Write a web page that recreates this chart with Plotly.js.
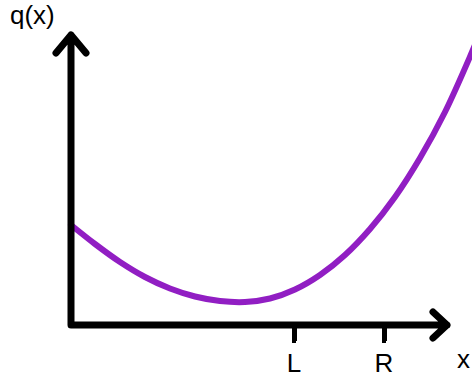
<!DOCTYPE html>
<html>
<head>
<meta charset="utf-8">
<script src="https://cdn.plot.ly/plotly-3.0.1.min.js"></script>
<style>
  html, body { margin: 0; padding: 0; background: #ffffff; }
  #chart { width: 472px; height: 378px; }
</style>
</head>
<body>
<div id="chart"></div>
<script>
// Sample points of the curve q(x)
const curveX = [0, 24, 49, 74, 99, 124, 149, 174, 199, 224, 249, 274, 299, 324, 349, 374, 401, 411];
const curveY = [100, 81, 63, 48, 36.5, 28.5, 24, 23, 26.5, 35.5, 50, 70, 96, 128, 167, 213, 273, 297];

// Marked points on the x axis
const tickPositions = [223, 313];
const tickLabels = ['L', 'R'];

// Axis extents (the arrow tips)
const xAxisEnd = 376;
const yAxisEnd = 290;

const axisPath =
  'M 0,' + yAxisEnd + ' L 0,0 L ' + xAxisEnd + ',0' +
  ' M -15,' + (yAxisEnd - 18) + ' L 0,' + yAxisEnd + ' L 15,' + (yAxisEnd - 18) +
  ' M ' + (xAxisEnd - 14) + ',13 L ' + xAxisEnd + ',0 L ' + (xAxisEnd - 14) + ',-13';

const fontFamily = '"Liberation Sans", Arial, sans-serif';

const trace = {
  x: curveX,
  y: curveY,
  type: 'scatter',
  mode: 'lines',
  line: { color: '#911ec3', width: 6, shape: 'spline', smoothing: 1 },
  hoverinfo: 'skip'
};

const layout = {
  width: 472,
  height: 378,
  margin: { l: 0, r: 0, t: 0, b: 0, pad: 0 },
  paper_bgcolor: '#ffffff',
  plot_bgcolor: '#ffffff',
  showlegend: false,
  xaxis: {
    range: [-71, 401],
    anchor: 'free',
    position: 53 / 378,
    showgrid: false,
    zeroline: false,
    showline: false,
    tickmode: 'array',
    tickvals: tickPositions,
    ticktext: tickLabels,
    ticks: 'outside',
    ticklen: 15,
    tickwidth: 5,
    tickcolor: '#000000',
    tickfont: { family: fontFamily, size: 26, color: '#000000' },
    fixedrange: true
  },
  yaxis: {
    range: [-53, 325],
    visible: false,
    fixedrange: true
  },
  shapes: [{
    type: 'path',
    xref: 'x',
    yref: 'y',
    path: axisPath,
    line: { color: '#000000', width: 7 },
    layer: 'above'
  }],
  annotations: [
    {
      x: -38.5, y: 310, xref: 'x', yref: 'y',
      text: 'q(x)', showarrow: false, borderpad: 0,
      xanchor: 'center', yanchor: 'middle',
      font: { family: fontFamily, size: 26, color: '#000000' }
    },
    {
      x: 392, y: -34, xref: 'x', yref: 'y',
      text: 'x', showarrow: false, borderpad: 0,
      xanchor: 'center', yanchor: 'middle',
      font: { family: fontFamily, size: 26, color: '#000000' }
    }
  ]
};

Plotly.newPlot('chart', [trace], layout, { staticPlot: true, displayModeBar: false }).then(function (gd) {
  // Rounded ends and joins for the axis arrows and tick marks
  gd.querySelectorAll('.shapelayer path, path.xtick').forEach(function (p) {
    p.style.strokeLinecap = 'round';
    p.style.strokeLinejoin = 'round';
  });
  gd.querySelectorAll('.scatterlayer path.js-line').forEach(function (p) {
    p.style.strokeLinecap = 'round';
  });
});
</script>
</body>
</html>
